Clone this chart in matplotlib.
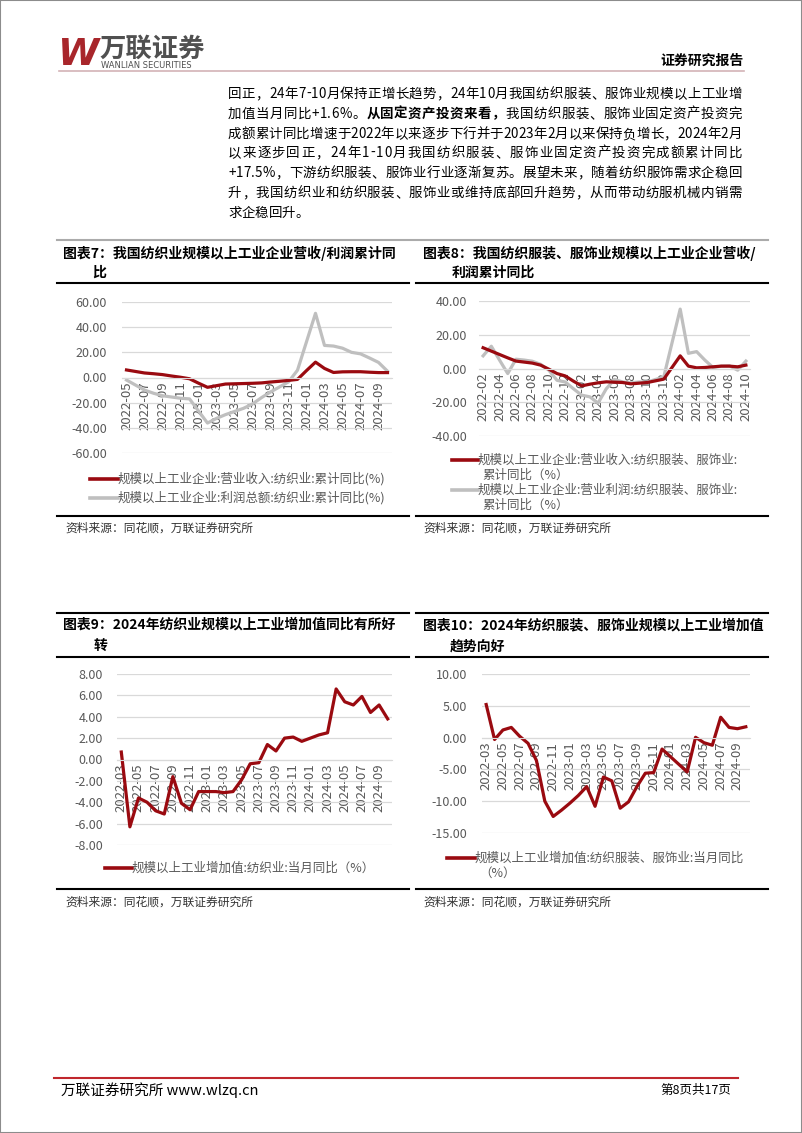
import matplotlib
matplotlib.use("Agg")
import matplotlib.pyplot as plt
import numpy as np
import pandas as pd
from matplotlib.lines import Line2D
from matplotlib.patches import Rectangle
from matplotlib.ticker import FormatStrFormatter
from matplotlib.font_manager import FontProperties

plt.rcParams['font.family'] = ['Noto Sans CJK SC', 'DejaVu Sans']
plt.rcParams['axes.unicode_minus'] = False

# ---- data ----
months7 = pd.date_range("2022-05", "2024-10", freq="MS").strftime("%Y-%m").tolist()
rev7 = [6.0, 4.8, 3.6, 3.0, 2.3, 1.2, 0.2, -1.0, -4.5, -7.8, -6.5, -5.2, -5.0, -4.8, -4.6,
        -4.3, -3.6, -3.0, -2.3, -1.5, 5.5, 12.2, 7.2, 4.0, 4.5, 4.6, 4.6, 4.2, 3.9, 3.9]
prof7 = [-2.0, -6.0, -10.0, -12.5, -14.5, -15.5, -16.5, -17.0, -26.6, -36.2, -32.5, -29.5,
         -27.0, -24.5, -21.0, -16.0, -11.5, -7.5, -3.5, 5.8, 28.4, 51.0, 25.5, 25.0, 23.3,
         20.0, 18.8, 15.5, 12.0, 5.0]

months8 = pd.date_range("2022-02", "2024-10", freq="MS").strftime("%Y-%m").tolist()
rev8 = [12.3, 10.3, 8.3, 6.3, 4.4, 3.8, 3.2, 2.0, -0.4, -3.0, -4.4, -7.5, -10.3, -9.3, -8.5,
        -7.9, -8.1, -8.3, -9.1, -8.7, -8.3, -7.3, -6.3, 0.6, 7.5, 1.4, 0.4, 0.6, 1.0, 1.4,
        1.4, 1.0, 2.0]
prof8 = [7.5, 13.2, 5.0, -3.0, 5.5, 5.0, 4.3, 2.5, -1.0, -7.0, -8.0, -12.0, -15.8, -16.8,
         -20.5, -12.0, -6.5, -8.0, -8.5, -8.0, -8.0, -6.5, -5.0, 15.1, 35.2, 9.0, 10.0, 5.0,
         0.6, 1.4, 1.6, -1.0, 4.4]

months9 = pd.date_range("2022-03", "2024-10", freq="MS").strftime("%Y-%m").tolist()
va9 = [0.7, -6.3, -3.6, -4.0, -4.8, -5.1, -1.6, -4.1, -4.7, -3.0, -3.0, -3.0, -3.1, -3.0,
       -1.9, -0.4, -0.3, 1.4, 0.8, 2.0, 2.1, 1.7, 2.0, 2.3, 2.5, 6.6, 5.4, 5.1, 5.9, 4.4,
       5.1, 3.8]

months10 = pd.date_range("2022-03", "2024-10", freq="MS").strftime("%Y-%m").tolist()
va10 = [5.2, -0.3, 1.2, 1.6, 0.2, -0.9, -3.6, -10.0, -12.4, -11.4, -10.3, -9.1, -7.7, -10.8,
        -6.2, -6.8, -11.1, -10.1, -7.7, -5.6, -5.5, -1.8, -3.0, -4.2, -5.4, 0.05, -0.8, -1.2,
        3.2, 1.6, 1.4, 1.7]

RED = "#9A0A10"
GRAY = "#BFBFBF"
TXT = "#595959"

W, H = 802, 1133
fig = plt.figure(figsize=(8.02, 11.33), dpi=100)


def fx(x):
    return x / W


def fy(y):
    return 1 - y / H


def ptext(x, y, s, **kw):
    kw.setdefault("va", "center")
    return fig.text(fx(x), fy(y), s, **kw)


def hline(x0, x1, y, color="black", lw=1.5):
    fig.add_artist(Line2D([fx(x0), fx(x1)], [fy(y), fy(y)], color=color, lw=lw,
                          transform=fig.transFigure))


def add_chart(box, ylim, step, cats, series, pad):
    x0, y0, x1, y1 = box
    ax = fig.add_axes([fx(x0), fy(y1), (x1 - x0) / W, (y1 - y0) / H])
    xs = np.arange(len(cats))
    lines = []
    for vals, col in series:
        ln, = ax.plot(xs, vals, color=col, lw=2.3, solid_joinstyle="round")
        lines.append(ln)
    ax.set_xlim(-0.5, len(cats) - 0.5)
    ax.set_ylim(*ylim)
    ax.set_yticks(np.arange(ylim[0], ylim[1] + step / 2, step))
    ax.yaxis.set_major_formatter(FormatStrFormatter("%.2f"))
    ax.set_xticks(xs[::2])
    ax.set_xticklabels(cats[::2])
    ax.grid(axis="y", color="#d9d9d9", lw=0.9)
    ax.set_axisbelow(True)
    for s in ["top", "right", "left"]:
        ax.spines[s].set_visible(False)
    ax.spines["bottom"].set_position(("data", 0))
    ax.spines["bottom"].set_color("#d9d9d9")
    ax.tick_params(axis="x", length=0, pad=3, labelsize=9.5, labelcolor=TXT,
                   labelrotation=90)
    ax.tick_params(axis="y", length=0, pad=pad, labelsize=9, labelcolor=TXT)
    ax.patch.set_alpha(0)
    return ax, lines


def legend_entry(x0, x1, y, color, lines_txt):
    hline(x0, x1, y, color=color, lw=2.6)
    for k, t in enumerate(lines_txt):
        ptext(x1 + (0 if k == 0 else 4), y + k * 15.5, t, fontsize=9, color=TXT, ha="left")


# ---- page frame / header ----
fig.add_artist(Rectangle((0, 0), 1, 1, transform=fig.transFigure, fill=False,
                         edgecolor="#8c8c8c", lw=1.5))
ptext(58, 55, "W", fontsize=27, weight="bold", style="italic", color="#A8262B",
      family="DejaVu Sans", ha="left")
ptext(99, 49, "万联证券", fontsize=19, weight="bold", color="#505050", ha="left")
ptext(101, 66, "WANLIAN SECURITIES", fontsize=6, color="#505050", family="DejaVu Sans",
      ha="left")
ptext(744, 61, "证券研究报告", fontsize=10, weight="bold", ha="right")
hline(59, 744, 71, color="#d3b3b6", lw=1.2)

# ---- body text (justified) ----
renderer = fig.canvas.get_renderer()
BODY_FS = 9.7
body = [
    [("回正，24年7-10月保持正增长趋势，24年10月我国纺织服装、服饰业规模以上工业增", "normal")],
    [("加值当月同比+1.6%。", "normal"), ("从固定资产投资来看，", "bold"),
     ("我国纺织服装、服饰业固定资产投资完", "normal")],
    [("成额累计同比增速于2022年以来逐步下行并于2023年2月以来保持负增长，2024年2月", "normal")],
    [("以来逐步回正，24年1-10月我国纺织服装、服饰业固定资产投资完成额累计同比", "normal")],
    [("+17.5%，下游纺织服装、服饰业行业逐渐复苏。展望未来，随着纺织服饰需求企稳回", "normal")],
    [("升，我国纺织业和纺织服装、服饰业或维持底部回升趋势，从而带动纺服机械内销需", "normal")],
    [("求企稳回升。", "normal")],
]
body_y = [94, 114, 134, 153, 173, 193, 213]
for segs, y in zip(body, body_y):
    chars = [(c, wt) for s, wt in segs for c in s]
    widths = []
    for c, wt in chars:
        fp = FontProperties(family=["Noto Sans CJK SC", "DejaVu Sans"], size=BODY_FS, weight=wt)
        widths.append(renderer.get_text_width_height_descent(c, fp, ismath=False)[0])
    last = segs is body[-1]
    gap = 0 if last else (742 - 228 - sum(widths)) / (len(chars) - 1)
    x = 228
    for (c, wt), w in zip(chars, widths):
        ptext(x, y, c, fontsize=BODY_FS, weight=wt, ha="left")
        x += w + gap

# ---- chart frames ----
hline(57, 768, 240, color="#ababab", lw=1.5)
for y in [283, 516, 613, 657, 889]:
    hline(57, 409, y)
    hline(416, 768, y)

ptext(63, 253, "图表7：我国纺织业规模以上工业企业营收/利润累计同", fontsize=10, weight="bold", ha="left")
ptext(92, 273, "比", fontsize=10, weight="bold", ha="left")
ptext(423, 253, "图表8：我国纺织服装、服饰业规模以上工业企业营收/", fontsize=10, weight="bold", ha="left")
ptext(452, 273, "利润累计同比", fontsize=10, weight="bold", ha="left")
ptext(63, 625, "图表9：2024年纺织业规模以上工业增加值同比有所好", fontsize=10, weight="bold", ha="left")
ptext(94, 647, "转", fontsize=10, weight="bold", ha="left")
ptext(423, 625, "图表10：2024年纺织服装、服饰业规模以上工业增加值", fontsize=10, weight="bold", ha="left")
ptext(450, 647, "趋势向好", fontsize=10, weight="bold", ha="left")

for x, y in [(65, 528), (423, 528), (65, 902), (423, 902)]:
    ptext(x, y, "资料来源：同花顺，万联证券研究所", fontsize=8.5, color="#333333", ha="left")

# ---- charts ----
ax7, l7 = add_chart((122, 302, 392, 453), (-60, 60), 20, months7,
                    [(prof7, GRAY), (rev7, RED)], 10.8)
legend_entry(90, 118, 479, RED, ["规模以上工业企业:营业收入:纺织业:累计同比(%)"])
legend_entry(90, 118, 498, GRAY, ["规模以上工业企业:利润总额:纺织业:累计同比(%)"])

ax8, l8 = add_chart((479, 301, 750, 436), (-40, 40), 20, months8,
                    [(prof8, GRAY), (rev8, RED)], 8.6)
legend_entry(452, 478, 460, RED, ["规模以上工业企业:营业收入:纺织服装、服饰业:", "累计同比（%）"])
legend_entry(452, 478, 490, GRAY, ["规模以上工业企业:营业利润:纺织服装、服饰业:", "累计同比（%）"])

ax9, l9 = add_chart((117, 674, 392, 845), (-8, 8), 2, months9, [(va9, RED)], 10)
legend_entry(105, 132, 868, RED, ["规模以上工业增加值:纺织业:当月同比（%）"])

ax10, l10 = add_chart((482, 674, 750, 833), (-15, 10), 5, months10, [(va10, RED)], 10.8)
legend_entry(447, 475, 858, RED, ["规模以上工业增加值:纺织服装、服饰业:当月同比", "（%）"])

# ---- footer ----
hline(54, 738, 1078, color="#C0272D", lw=1.5)
ptext(61, 1090, "万联证券研究所 www.wlzq.cn", fontsize=10.5, ha="left")
ptext(731, 1090, "第8页共17页", fontsize=9, ha="right")

fig.savefig("out.png", dpi=100)
